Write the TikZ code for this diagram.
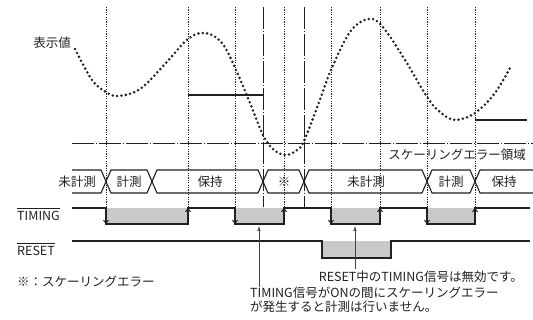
\documentclass[tikz,border=0pt]{standalone}
\usepackage{fontspec}
\setmainfont{Noto Sans CJK JP}
\usetikzlibrary{arrows.meta}
\definecolor{ink}{HTML}{231F20}
\definecolor{fillg}{HTML}{C8C9CA}
\begin{document}
\begin{tikzpicture}[x=1pt,y=-1pt,
  lbl/.style={font=\fontsize{12.5}{14}\selectfont, inner sep=0pt, text=ink},
  sig/.style={draw=ink, line width=1.2pt, line join=miter},
  statel/.style={draw=ink, line width=1.1pt, line join=miter},
  vdot/.style={draw=ink, line width=0.7pt, dash pattern=on 1.2pt off 1.2pt},
  dashdot/.style={draw=ink, line width=0.8pt, dash pattern=on 22pt off 2pt on 1pt off 2pt},
  curvedots/.style={draw=ink, line width=2.8pt, line cap=round, dash pattern=on 0pt off 4.4pt},
  hold/.style={draw=ink, line width=2pt},
  edgearr/.style={-{Straight Barb[length=3pt,width=5pt]}, draw=ink, line width=1pt},
  callout/.style={-{Latex[length=5pt,width=3.5pt]}, draw=ink!85, line width=0.7pt},
  overl/.style={draw=ink, line width=0.8pt}
]
\useasboundingbox (0,0) rectangle (533,320);

% vertical reference lines
\foreach \x in {106,188,235,284,331,380,427,475}
  \draw[vdot] (\x,7) -- (\x,207);
\foreach \x in {263,304}
  \draw[dashdot] (\x,7) -- (\x,207);
% scaling error threshold
\draw[dashdot] (72,143) -- (533,143);

% displayed value curve
\draw[curvedots] plot[smooth, tension=0.6] coordinates {
 (75,49) (92,80) (106,92) (118,96) (140,89) (165,64) (188,39) (205,33)
 (222,43) (236,70) (250,103) (263,135) (274,150) (286,155) (297,150)
 (304,141) (318,105) (331,70) (350,32) (368,19) (382,26) (405,60)
 (427,97) (440,112) (455,120) (475,113) (495,93) (511,66)};

% held values
\draw[hold] (188,95) -- (263,95);
\draw[hold] (475,120) -- (527,120);

% labels top
\node[lbl] (disp) at (52,43) {表示値};
\node[lbl, anchor=east] (errzone) at (526,155) {スケーリングエラー領域};

% state bar
\draw[statel] (72,170) -- (101,170) -- (106,181.5) -- (101,193) -- (72,193);
\foreach \a/\b in {106/152,152/263,263/304,304/427,427/475}
  \draw[statel] (\a,181.5) -- (\a+5,170) -- (\b-5,170) -- (\b,181.5) -- (\b-5,193) -- (\a+5,193) -- cycle;
\draw[statel] (533,170) -- (480,170) -- (475,181.5) -- (480,193) -- (533,193);
\node[lbl] (s1) at (77,181.5) {未計測};
\node[lbl] (s2) at (129,181.5) {計測};
\node[lbl] (s3) at (210,181.5) {保持};
\node[lbl] (s4) at (284,181.5) {※};
\node[lbl] (s5) at (366,181.5) {未計測};
\node[lbl] (s6) at (451,181.5) {計測};
\node[lbl] (s7) at (504,181.5) {保持};

% TIMING signal
\foreach \a/\b in {106/188,235/284,331/380,427/475}
  \fill[fillg] (\a,208) rectangle (\b,224);
\draw[sig] (72,208) -- (106,208) -- (106,224) -- (188,224) -- (188,208) -- (235,208)
  -- (235,224) -- (284,224) -- (284,208) -- (331,208) -- (331,224) -- (380,224)
  -- (380,208) -- (427,208) -- (427,224) -- (475,224) -- (475,208) -- (530,208);
\foreach \x in {106,235,331,427}
  \draw[edgearr] (\x,209) -- (\x,224);
\foreach \x in {188,284,380,475}
  \draw[edgearr] (\x,223) -- (\x,208);

% RESET signal
\fill[fillg] (322,241) rectangle (391,258);
\draw[sig] (72,241) -- (322,241) -- (322,258) -- (391,258) -- (391,241) -- (530,241);

% signal names
\node[lbl, anchor=west] (tim) at (17,216) {TIMING};
\draw[overl] ([yshift=3pt]tim.north west) -- ([yshift=3pt]tim.north east);
\node[lbl, anchor=west] (rst) at (17,251) {RESET};
\draw[overl] ([yshift=3pt]rst.north west) -- ([yshift=3pt]rst.north east);

\node[lbl, anchor=west] (note) at (17,282) {※：スケーリングエラー};

% callouts
\node[lbl, anchor=north west, align=left] (ann1) at (250,287)
  {TIMING信号がONの間にスケーリングエラー\\が発生すると計測は行いません。};
\coordinate (t1) at (259,226);
\draw[callout] (t1 |- ann1.north) -- (t1);
\node[lbl, anchor=east] (ann2) at (523,277) {RESET中のTIMING信号は無効です。};
\coordinate (t2) at (355,226);
\draw[callout] ([yshift=2pt]t2 |- ann2.north) -- (t2);
\end{tikzpicture}
\end{document}
